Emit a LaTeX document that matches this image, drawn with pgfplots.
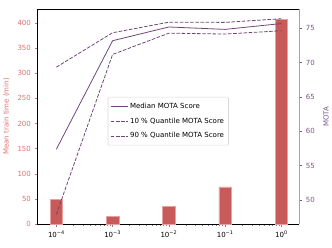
\documentclass[border=0pt]{standalone}
\usepackage{pgfplots}
\pgfplotsset{compat=1.18}
\usepackage{fontspec}
\setmainfont{DejaVu Sans}
\definecolor{barc}{HTML}{C85A5A}
\definecolor{baredge}{HTML}{E8A0A0}
\definecolor{redtxt}{HTML}{E07070}
\definecolor{purp}{HTML}{6E4577}
\definecolor{purptxt}{HTML}{7A5585}
\begin{document}
\begin{tikzpicture}
\pgfplotsset{
  every axis/.append style={
    scale only axis, width=264bp, height=217bp,
    xmode=log, xmin=4.62e-5, xmax=2.09,
    tick align=outside, line width=0.6pt,
    major tick length=3bp, minor tick length=1.8bp,
    tick style={line width=0.5pt},
    font=\fontsize{7.1}{8}\selectfont,
    /pgf/number format/assume math mode=true,
  }
}
\begin{axis}[
  ymin=0, ymax=427.6,
  ytick={0,50,...,400},
  axis y line*=left,
  axis x line*=box,
  xtick={1e-4,1e-3,1e-2,1e-1,1},
  xticklabels={10\textsuperscript{−4},10\textsuperscript{−3},10\textsuperscript{−2},10\textsuperscript{−1},10\textsuperscript{0}},
  xtick pos=bottom,
  ytick pos=left,
  yticklabel style={text=redtxt},
  y tick style={redtxt},
  ylabel={Mean train time (min)},
  ylabel style={text=redtxt, at={(axis description cs:-0.093,0.5)}},
  ybar, bar width=12.7bp,
  clip=false,
]
\addplot[fill=barc, draw=baredge, line width=0.4pt] coordinates {
  (1e-4,49) (1e-3,16) (1e-2,35) (1e-1,74) (1,407)
};
\draw[black, line width=0.6pt] (rel axis cs:0,1) -- (rel axis cs:1,1);
\end{axis}
\begin{axis}[
  ymin=46.47, ymax=77.83,
  axis y line*=right,
  axis x line=none,
  ytick={50,55,...,75},
  yticklabel style={text=purptxt},
  y tick style={purptxt},
  y axis line style={gray!70, line width=1pt},
  ylabel={MOTA},
  ylabel style={text=purptxt, at={(axis description cs:1.078,0.5)}},
  legend style={at={(axis description cs:0.268,0.592)}, anchor=north west,
    draw=gray!30, rounded corners=1pt, font=\fontsize{7.1}{8}\selectfont,
    row sep=4.2pt, inner sep=2.5pt, inner ysep=3.8pt},
  legend cell align=left,
]
\addplot[purp, line width=0.8pt] coordinates {
  (1e-4,57.4) (1e-3,73.2) (1e-2,75.2) (1e-1,74.85) (1,75.7)
};
\addlegendentry{Median MOTA Score}
\addplot[purp, line width=0.8pt, dash pattern=on 3.6bp off 1.6bp] coordinates {
  (1e-4,47.9) (1e-3,71.2) (1e-2,74.3) (1e-1,74.17) (1,74.65)
};
\addlegendentry{10 \% Quantile MOTA Score}
\addplot[purp, line width=0.8pt, dash pattern=on 3.6bp off 1.6bp] coordinates {
  (1e-4,69.35) (1e-3,74.36) (1e-2,75.9) (1e-1,75.87) (1,76.4)
};
\addlegendentry{90 \% Quantile MOTA Score}
\end{axis}
\useasboundingbox (-36bp,-23bp) rectangle (296bp,226bp);
\end{tikzpicture}
\end{document}
